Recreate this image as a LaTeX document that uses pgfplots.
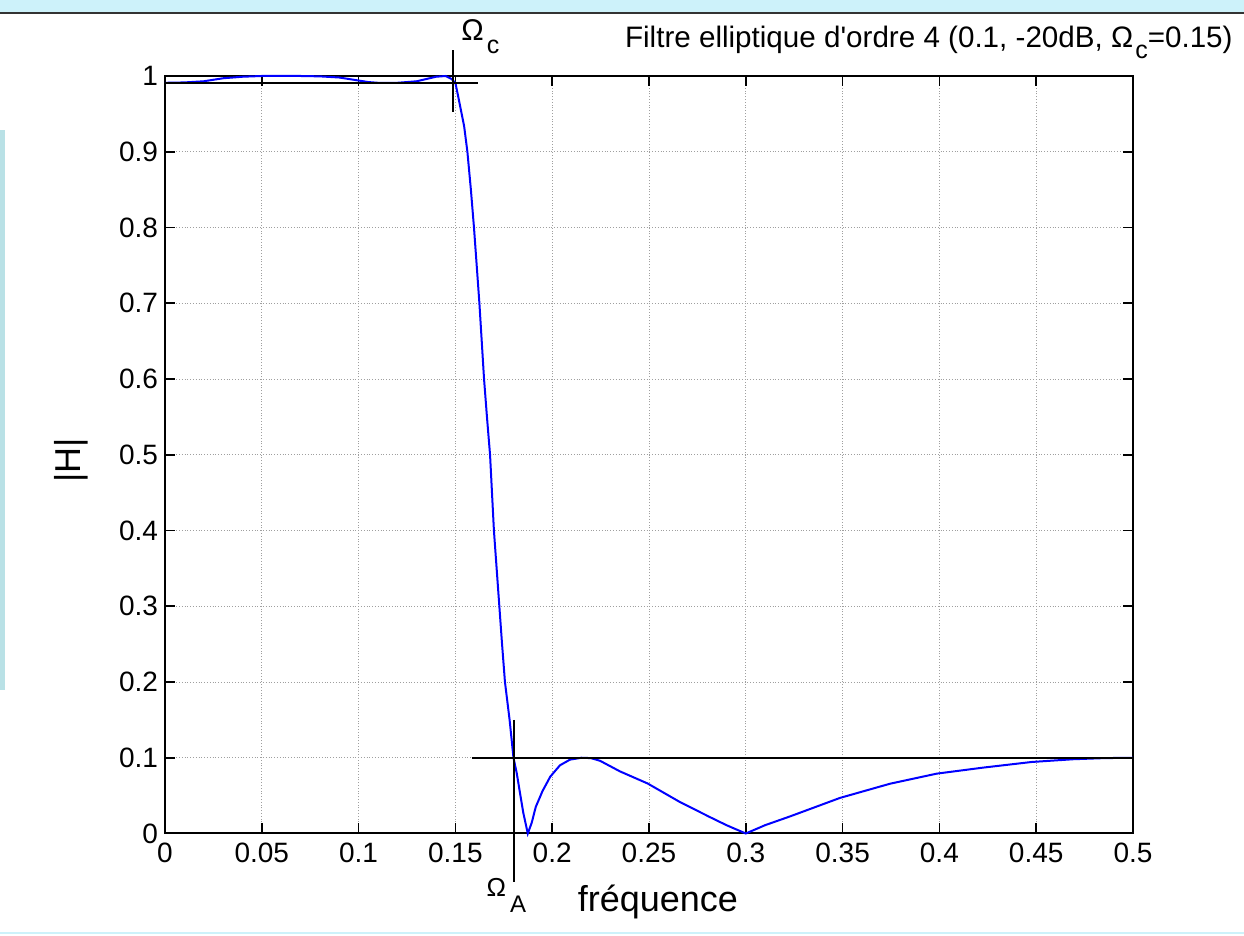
\documentclass[border=0pt]{standalone}
\usepackage{fontspec}
\setmainfont{Liberation Sans}[Ligatures=TeXOff]
\usepackage{pgfplots}
\pgfplotsset{compat=1.18}
\definecolor{slidecyan}{RGB}{205,242,250}
\definecolor{stripcyan}{RGB}{185,225,230}

\pgfplotstableread{
f       h
0       0.991
0.01    0.9915
0.02    0.993
0.025   0.995
0.03    0.997
0.04    0.999
0.05    1.0
0.06    1.0
0.07    1.0
0.08    0.9995
0.09    0.998
0.095   0.996
0.10    0.994
0.105   0.992
0.11    0.991
0.12    0.991
0.13    0.993
0.135   0.996
0.14    0.999
0.145   1.0
0.148   0.996
0.15    0.991
0.152   0.966
0.1545  0.934
0.1562  0.90
0.158   0.85
0.1596  0.80
0.161   0.75
0.1624  0.70
0.1636  0.65
0.1648  0.60
0.1663  0.55
0.1679  0.50
0.1689  0.45
0.1699  0.40
0.1713  0.35
0.1727  0.30
0.1741  0.25
0.1756  0.20
0.178   0.15
0.1800  0.10
0.1817  0.0795
0.1834  0.053
0.1851  0.027
0.1874  0.0
0.1894  0.014
0.1915  0.035
0.195   0.056
0.199   0.075
0.204   0.090
0.2092  0.0975
0.2152  0.100
0.220   0.0995
0.2247  0.096
0.235   0.082
0.2493  0.066
0.266   0.0415
0.2815  0.0216
0.290   0.011
0.300   0.0
0.310   0.011
0.3228  0.0225
0.3487  0.047
0.3745  0.0657
0.3986  0.079
0.4227  0.087
0.4477  0.0944
0.469   0.098
0.485   0.0995
0.500   0.100
}\response

\begin{document}
\begin{tikzpicture}
\useasboundingbox (-82.5pt,-51.25pt) rectangle (539.5pt,416.75pt);
\fill[white] (-82.5pt,-51.25pt) rectangle (539.5pt,416.75pt);
% slide residue round the figure
\fill[slidecyan] (-82.5pt,410.75pt) rectangle (539.5pt,416.75pt);
\draw[black!80, line width=0.6pt] (-82.5pt,410.25pt) -- (539.5pt,410.25pt);
\fill[stripcyan] (-82.5pt,71.75pt) rectangle (-80pt,351.75pt);
\draw[slidecyan, line width=1pt] (-82.5pt,-49.75pt) -- (539.5pt,-49.75pt);

\begin{axis}[
    scale only axis,
    width=484pt, height=378.75pt,
    xmin=0, xmax=0.5, ymin=0, ymax=1,
    xtick={0,0.05,0.1,0.15,0.2,0.25,0.3,0.35,0.4,0.45,0.5},
    xticklabels={0,0.05,0.1,0.15,0.2,0.25,0.3,0.35,0.4,0.45,0.5},
    ytick={0,0.1,0.2,0.3,0.4,0.5,0.6,0.7,0.8,0.9,1},
    yticklabels={0,0.1,0.2,0.3,0.4,0.5,0.6,0.7,0.8,0.9,1},
    tick align=inside,
    major tick length=5pt,
    every tick/.style={black, line width=0.8pt},
    axis line style={line width=1pt},
    grid=major,
    major grid style={densely dotted, gray!75, line width=0.4pt},
    ticklabel style={font=\fontsize{14}{16}\selectfont},
    xticklabel style={yshift=-1pt},
    clip=false,
]
\addplot[blue, line width=1pt, sharp plot] table[x=f, y=h] {\response};

% gabarit
\addplot[black, line width=0.8pt] coordinates {(0,0.991) (0.1617,0.991)};
\addplot[black, line width=0.8pt] coordinates {(0.1488,1.034) (0.1488,0.953)};
\addplot[black, line width=0.8pt] coordinates {(0.1803,0.150) (0.1803,-0.0636)};
\addplot[black, line width=0.8pt] coordinates {(0.1584,0.1) (0.5,0.1)};

\node[anchor=base west, font=\fontsize{15}{17}\selectfont] at (axis cs:0.1495,1.0475)
    {Ω\hspace{1.5pt}\raisebox{-6.5pt}{\fontsize{12.5}{14}\selectfont c}};
\node[anchor=base west, font=\fontsize{13}{15}\selectfont] at (axis cs:0.1625,-0.0835)
    {Ω\hspace{2pt}\raisebox{-8pt}{\fontsize{12}{14}\selectfont A}};
\node[anchor=base, font=\fontsize{18}{20}\selectfont] at (axis cs:0.2546,-0.1036) {fréquence};
\node[rotate=90, font=\fontsize{18}{20}\selectfont] at (axis cs:-0.0486,0.493) {|H|};
\node[anchor=base west, font=\fontsize{14.8}{16}\selectfont] at (axis cs:0.2340,1.0370)
    {Filtre elliptique d'ordre 4 (0.1, -20dB, Ω\hspace{1pt}\raisebox{-5.5pt}{\fontsize{12.5}{14}\selectfont c}=0.15)};
\end{axis}
\end{tikzpicture}
\end{document}
